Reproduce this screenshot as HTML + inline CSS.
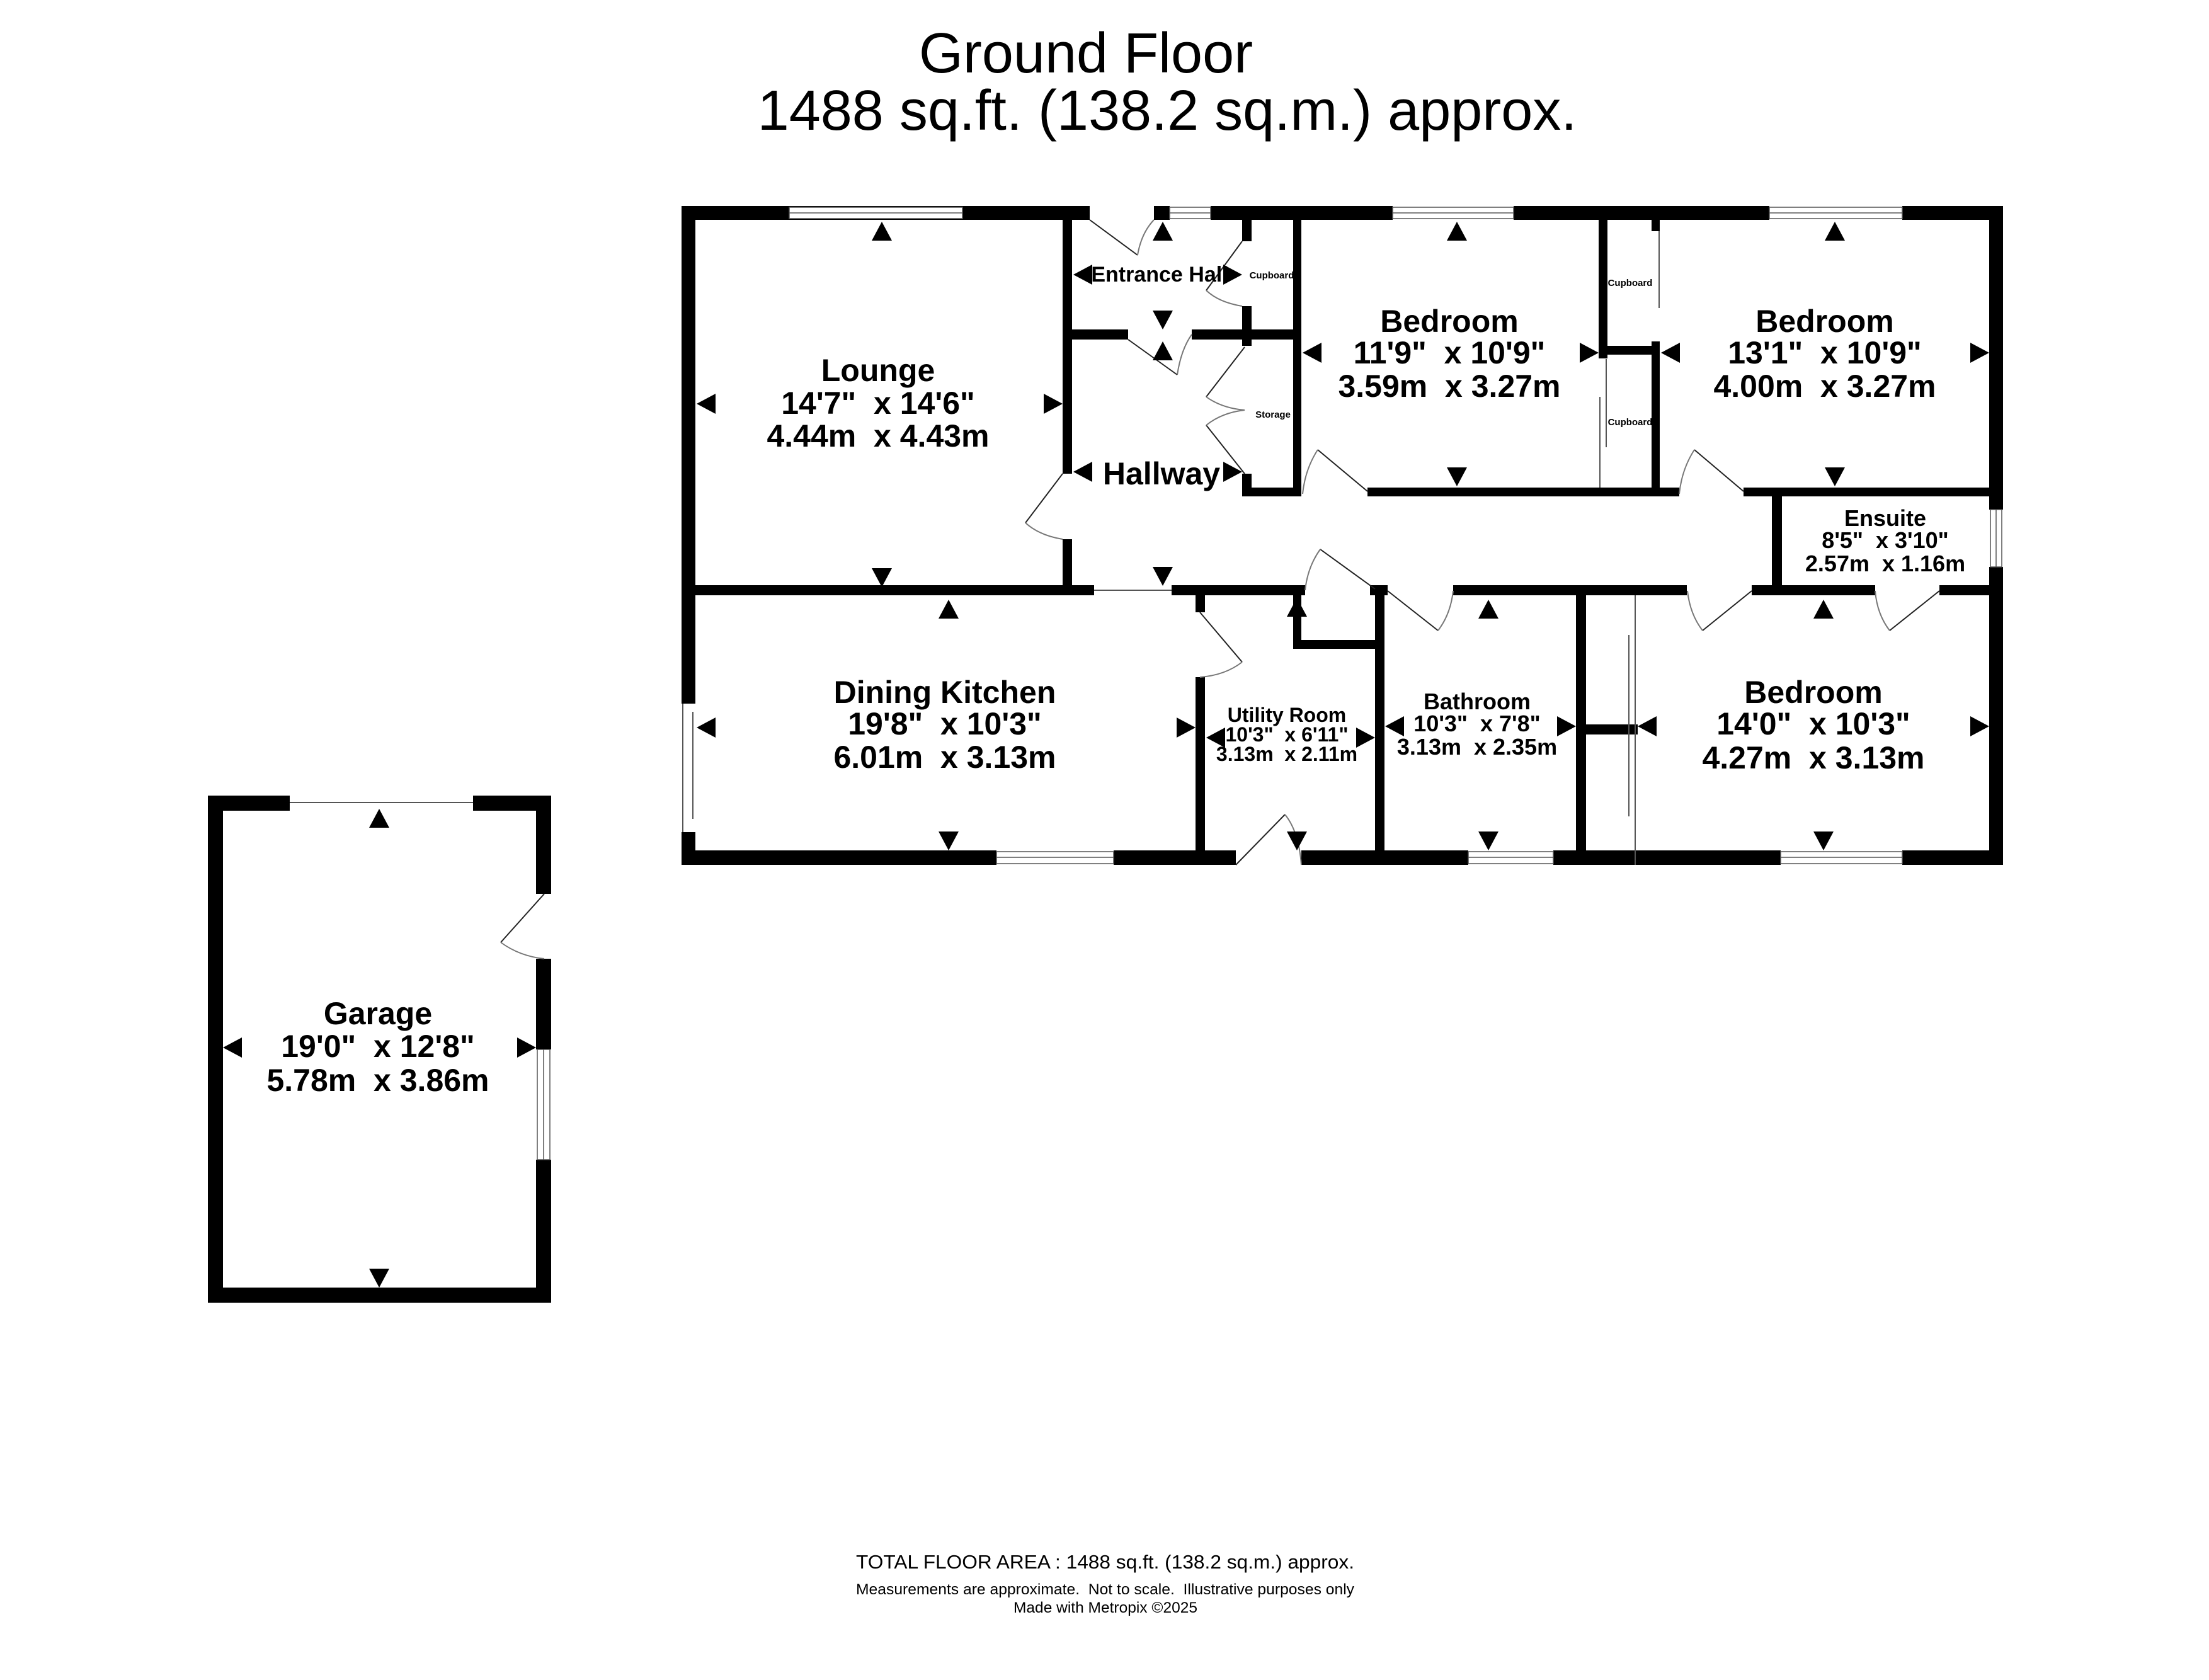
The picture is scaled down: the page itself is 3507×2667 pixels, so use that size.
<!DOCTYPE html>
<html><head><meta charset="utf-8"><style>
html,body{margin:0;padding:0;background:#fff}
svg{display:block}
text{font-family:"Liberation Sans",Arial,sans-serif;fill:#000;white-space:pre}
.b{font-weight:bold}
</style></head><body>
<svg width="3507" height="2667" viewBox="0 0 3507 2667" xmlns="http://www.w3.org/2000/svg" xml:space="preserve">
<rect width="3507" height="2667" fill="#fff"/>
<text x="1724" y="115" font-size="90" text-anchor="middle">Ground Floor</text>
<text x="1853" y="206" font-size="90" text-anchor="middle">1488 sq.ft. (138.2 sq.m.) approx.</text>

<g fill="#000">
<rect x="1082" y="327" width="648" height="22"/>
<rect x="1832" y="327" width="25" height="22"/>
<rect x="1922" y="327" width="289" height="22"/>
<rect x="2403" y="327" width="406" height="22"/>
<rect x="3020" y="327" width="160" height="22"/>
<rect x="1082" y="327" width="22" height="790"/>
<rect x="1082" y="1321" width="22" height="52"/>
<rect x="3158" y="327" width="22" height="482"/>
<rect x="3158" y="900" width="22" height="473"/>
<rect x="1082" y="1350" width="500" height="23"/>
<rect x="1768" y="1350" width="194" height="23"/>
<rect x="2066" y="1350" width="265" height="23"/>
<rect x="2466" y="1350" width="361" height="23"/>
<rect x="3020" y="1350" width="160" height="23"/>
<rect x="1687" y="349" width="15" height="403"/>
<rect x="1687" y="856" width="15" height="89"/>
<rect x="1082" y="929" width="655" height="16"/>
<rect x="1860" y="929" width="212" height="16"/>
<rect x="2175" y="929" width="28" height="16"/>
<rect x="2307" y="929" width="371" height="16"/>
<rect x="2781" y="929" width="196" height="16"/>
<rect x="3079" y="929" width="101" height="16"/>
<rect x="1702" y="523" width="89" height="16"/>
<rect x="1892" y="523" width="161" height="16"/>
<rect x="1972" y="349" width="15" height="34"/>
<rect x="1972" y="486" width="15" height="63"/>
<rect x="1972" y="752" width="15" height="36"/>
<rect x="2053" y="349" width="13" height="439"/>
<rect x="1972" y="774" width="94" height="14"/>
<rect x="2171" y="774" width="495" height="14"/>
<rect x="2768" y="774" width="412" height="14"/>
<rect x="2538" y="349" width="14" height="220"/>
<rect x="2538" y="549" width="97" height="14"/>
<rect x="2622" y="349" width="13" height="18"/>
<rect x="2622" y="542" width="13" height="246"/>
<rect x="2813" y="774" width="16" height="170"/>
<rect x="1898" y="945" width="15" height="27"/>
<rect x="1898" y="1075" width="15" height="298"/>
<rect x="2053" y="929" width="13" height="101"/>
<rect x="2053" y="1016" width="145" height="14"/>
<rect x="2183" y="929" width="15" height="444"/>
<rect x="2502" y="929" width="16" height="444"/>
<rect x="2518" y="1150" width="82" height="16"/>
<rect x="330" y="1263" width="130" height="24"/>
<rect x="751" y="1263" width="124" height="24"/>
<rect x="330" y="1263" width="24" height="805"/>
<rect x="330" y="2044" width="545" height="24"/>
<rect x="851" y="1263" width="24" height="156"/>
<rect x="851" y="1522" width="24" height="144"/>
<rect x="851" y="1841" width="24" height="227"/>
</g>

<g fill="#fff" stroke="#555" stroke-width="1.5">
<rect x="1253" y="329" width="275" height="18"/><line x1="1253" y1="338" x2="1528" y2="338"/>
<rect x="1857" y="329" width="65" height="18"/><line x1="1857" y1="338" x2="1922" y2="338"/>
<rect x="2211" y="329" width="192" height="18"/><line x1="2211" y1="338" x2="2403" y2="338"/>
<rect x="2809" y="329" width="211" height="18"/><line x1="2809" y1="338" x2="3020" y2="338"/>
<rect x="1582" y="1352" width="186" height="19"/><line x1="1582" y1="1361" x2="1768" y2="1361"/>
<rect x="2331" y="1352" width="135" height="19"/><line x1="2331" y1="1361" x2="2466" y2="1361"/>
<rect x="2827" y="1352" width="193" height="19"/><line x1="2827" y1="1361" x2="3020" y2="1361"/>
<rect x="3160" y="809" width="18" height="91"/><line x1="3169" y1="809" x2="3169" y2="900"/>
<rect x="853" y="1666" width="20" height="175"/><line x1="863" y1="1666" x2="863" y2="1841"/>
</g>
<g stroke="#555" stroke-width="2" fill="none">
<line x1="1084" y1="1117" x2="1084" y2="1321"/><line x1="1100" y1="1130" x2="1100" y2="1300"/>
<line x1="1737" y1="937" x2="1860" y2="937"/>
<line x1="460" y1="1274" x2="751" y2="1274"/>
<line x1="2634" y1="367" x2="2634" y2="489"/>
<line x1="2540" y1="630" x2="2540" y2="774"/>
<line x1="2550" y1="570" x2="2550" y2="710"/>
<line x1="2596" y1="945" x2="2596" y2="1373"/>
<line x1="2586" y1="1008" x2="2586" y2="1296"/>
</g>

<g stroke="#222" stroke-width="2" fill="none">
<path d="M1730 349 L1806 405"/><path d="M1806 405 Q1812 370 1832 349" stroke="#777"/>
<path d="M1972 383 L1915 461"/><path d="M1915 461 Q1935 480 1972 486" stroke="#777"/>
<path d="M1791 539 L1869 595"/><path d="M1869 595 Q1875 555 1892 531" stroke="#777"/>
<path d="M1976 551 L1915 630"/><path d="M1915 630 Q1940 648 1976 651" stroke="#777"/>
<path d="M1976 752 L1915 675"/><path d="M1915 675 Q1940 655 1976 651" stroke="#777"/>
<path d="M1687 752 L1628 830"/><path d="M1628 830 Q1650 850 1687 856" stroke="#777"/>
<path d="M1905 972 L1972 1051"/><path d="M1972 1051 Q1945 1072 1905 1075" stroke="#777"/>
<path d="M1962 1373 L2040 1293"/><path d="M2040 1293 Q2062 1320 2066 1373" stroke="#777"/>
<path d="M2183 935 L2096 872"/><path d="M2096 872 Q2076 900 2072 937" stroke="#777"/>
<path d="M2203 938 L2283 1001"/><path d="M2283 1001 Q2303 975 2307 938" stroke="#777"/>
<path d="M2171 780 L2092 714"/><path d="M2092 714 Q2072 745 2068 784" stroke="#777"/>
<path d="M2768 780 L2690 714"/><path d="M2690 714 Q2670 745 2666 784" stroke="#777"/>
<path d="M2781 938 L2703 1001"/><path d="M2703 1001 Q2683 975 2679 938" stroke="#777"/>
<path d="M3079 938 L3000 1001"/><path d="M3000 1001 Q2980 975 2977 938" stroke="#777"/>
<path d="M864 1419 L795 1496"/><path d="M795 1496 Q825 1518 864 1522" stroke="#777"/>
</g>

<g fill="#000">
<path d="M1400 352 l-16 30 h32z"/><path d="M1846 352 l-16 30 h32z"/>
<path d="M1846 542 l-16 30 h32z"/><path d="M2313 352 l-16 30 h32z"/>
<path d="M2913 352 l-16 30 h32z"/><path d="M1506 952 l-16 30 h32z"/>
<path d="M2059 949 l-16 30 h32z"/><path d="M2363 952 l-16 30 h32z"/>
<path d="M2895 952 l-16 30 h32z"/><path d="M602 1284 l-16 30 h32z"/>
<path d="M1400 932 l-16 -30 h32z"/><path d="M1846 523 l-16 -30 h32z"/>
<path d="M1846 930 l-16 -30 h32z"/><path d="M2313 772 l-16 -30 h32z"/>
<path d="M2913 772 l-16 -30 h32z"/><path d="M1506 1350 l-16 -30 h32z"/>
<path d="M2059 1350 l-16 -30 h32z"/><path d="M2363 1350 l-16 -30 h32z"/>
<path d="M2895 1350 l-16 -30 h32z"/><path d="M602 2044 l-16 -30 h32z"/>
<path d="M1106 641 l30 -16 v32z"/><path d="M1704 436 l30 -16 v32z"/>
<path d="M1704 749 l30 -16 v32z"/><path d="M2068 560 l30 -16 v32z"/>
<path d="M2637 560 l30 -16 v32z"/><path d="M1106 1155 l30 -16 v32z"/>
<path d="M1915 1171 l30 -16 v32z"/><path d="M2199 1153 l30 -16 v32z"/>
<path d="M2600 1153 l30 -16 v32z"/><path d="M354 1663 l30 -16 v32z"/>
<path d="M1687 641 l-30 -16 v32z"/><path d="M1972 436 l-30 -16 v32z"/>
<path d="M1972 749 l-30 -16 v32z"/><path d="M2538 560 l-30 -16 v32z"/>
<path d="M3158 560 l-30 -16 v32z"/><path d="M1898 1155 l-30 -16 v32z"/>
<path d="M2183 1171 l-30 -16 v32z"/><path d="M2502 1153 l-30 -16 v32z"/>
<path d="M3158 1153 l-30 -16 v32z"/><path d="M851 1663 l-30 -16 v32z"/>
</g>

<g transform="translate(-2,-4)">
<g class="b" text-anchor="middle" font-size="50">
<text x="1396" y="609">Lounge</text>
<text x="1396" y="661">14'7"  x 14'6"</text>
<text x="1396" y="713">4.44m  x 4.43m</text>
<text x="1502" y="1120">Dining Kitchen</text>
<text x="1502" y="1170">19'8"  x 10'3"</text>
<text x="1502" y="1223">6.01m  x 3.13m</text>
<text x="2303" y="531">Bedroom</text>
<text x="2303" y="581">11'9"  x 10'9"</text>
<text x="2303" y="634">3.59m  x 3.27m</text>
<text x="2899" y="531">Bedroom</text>
<text x="2899" y="581">13'1"  x 10'9"</text>
<text x="2899" y="634">4.00m  x 3.27m</text>
<text x="2881" y="1120">Bedroom</text>
<text x="2881" y="1170">14'0"  x 10'3"</text>
<text x="2881" y="1224">4.27m  x 3.13m</text>
<text x="602" y="1630">Garage</text>
<text x="602" y="1682">19'0"  x 12'8"</text>
<text x="602" y="1736">5.78m  x 3.86m</text>
<text x="1846" y="773">Hallway</text>
</g>
<g class="b" text-anchor="middle" font-size="36">
<text x="2995" y="839">Ensuite</text>
<text x="2995" y="874">8'5"  x 3'10"</text>
<text x="2995" y="911">2.57m  x 1.16m</text>
<text x="2347" y="1130">Bathroom</text>
<text x="2347" y="1165">10'3"  x 7'8"</text>
<text x="2347" y="1202">3.13m  x 2.35m</text>
<text x="1843" y="451" font-size="34">Entrance Hall</text>
</g>
<g class="b" text-anchor="middle" font-size="32">
<text x="2045" y="1150">Utility Room</text>
<text x="2045" y="1181">10'3"  x 6'11"</text>
<text x="2045" y="1212">3.13m  x 2.11m</text>
</g>
</g>
<g class="b" font-size="15" text-anchor="middle">
<text x="2019" y="442">Cupboard</text>
<text x="2021" y="663">Storage</text>
<text x="2588" y="454">Cupboard</text>
<text x="2588" y="675">Cupboard</text>
</g>

<text x="1359" y="2490" font-size="31" textLength="791" lengthAdjust="spacingAndGlyphs">TOTAL FLOOR AREA : 1488 sq.ft. (138.2 sq.m.) approx.</text>
<text x="1359" y="2531" font-size="24" textLength="791" lengthAdjust="spacingAndGlyphs">Measurements are approximate.  Not to scale.  Illustrative purposes only</text>
<text x="1609" y="2560" font-size="24" textLength="292" lengthAdjust="spacingAndGlyphs">Made with Metropix ©2025</text>
</svg>
</body></html>
